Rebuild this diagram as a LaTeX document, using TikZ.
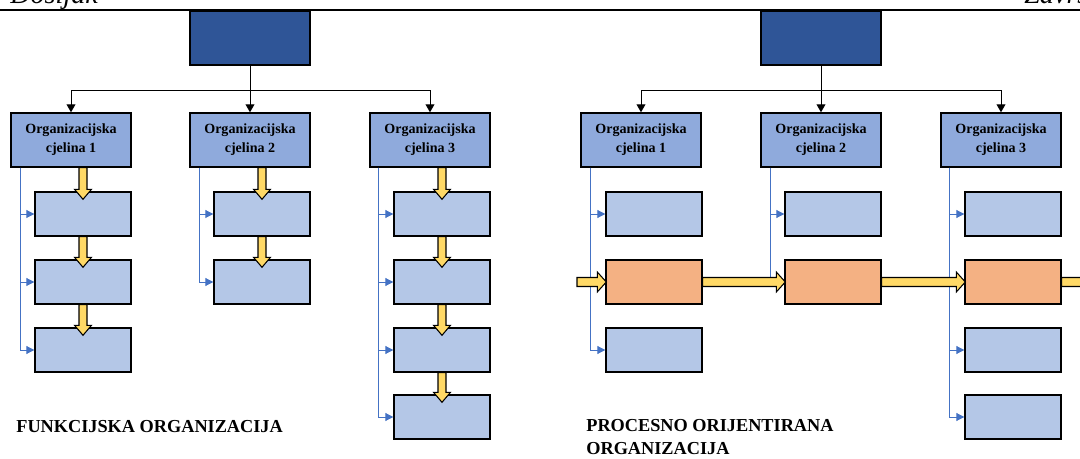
\documentclass[tikz,border=0pt]{standalone}
\usepackage{fontspec}
\setmainfont{Liberation Serif}
\usetikzlibrary{arrows.meta,calc}
\definecolor{topblue}{HTML}{2F5597}
\definecolor{unitblue}{HTML}{8FAADC}
\definecolor{taskblue}{HTML}{B4C7E7}
\definecolor{procorange}{HTML}{F4B183}
\definecolor{flowyellow}{HTML}{FFD966}
\definecolor{linkblue}{HTML}{4472C4}
% yellow block arrow, down from #1 into #2
\newcommand{\vflow}[2]{%
  \filldraw[flowarrow] ($(#1.south -| #2.north)+(-4,0)$) -- ($(#2.north)+(-4,-2)$)
    -- ($(#2.north)+(-8.5,-2)$) -- ($(#2.north)+(0,8)$) -- ($(#2.north)+(8.5,-2)$)
    -- ($(#2.north)+(4,-2)$) -- ($(#1.south -| #2.north)+(4,0)$) -- cycle;}
% yellow block arrow, right from #1 to #2
\newcommand{\hflow}[2]{%
  \filldraw[flowarrow] ($(#1)+(0,-4.5)$) -- ($(#2)+(-8,-4.5)$) -- ($(#2)+(-8,-10)$)
    -- ($(#2)+(1,0)$) -- ($(#2)+(-8,10)$) -- ($(#2)+(-8,4.5)$) -- ($(#1)+(0,4.5)$) -- cycle;}
\begin{document}
\begin{tikzpicture}[x=0.02cm,y=-0.02cm,
  every node/.style={inner sep=0pt},
  topbox/.style={draw=black,fill=topblue,line width=0.8pt,minimum width=2.4cm,minimum height=1.08cm},
  unitbox/.style={draw=black,fill=unitblue,line width=0.8pt,minimum width=2.4cm,minimum height=1.08cm,
    font=\bfseries\fontsize{8}{10.8}\selectfont,align=center},
  taskbox/.style={draw=black,fill=taskblue,line width=0.8pt,minimum width=1.92cm,minimum height=0.88cm},
  procbox/.style={taskbox,fill=procorange},
  conn/.style={draw=black,line width=0.5pt,-{Triangle[length=4.5pt,width=5pt]}},
  branch/.style={draw=linkblue,line width=0.5pt,-{Triangle[length=4.5pt,width=4.5pt]}},
  flowarrow/.style={draw=black,fill=flowyellow,line width=0.6pt,line join=miter},
  caption/.style={anchor=base west,font=\bfseries\fontsize{10.4}{13.2}\selectfont,align=left}]
\useasboundingbox (0,0) rectangle (1080,459);

% page header
\node[anchor=base west,font=\itshape\fontsize{16}{16}\selectfont] (hleft) at (10,4) {Došljak};
\node[anchor=base west,font=\itshape\fontsize{16}{16}\selectfont] (hright) at (1024,4) {Završni rad};
\draw[line width=1.2pt] (0,10) -- (1080,10);

% functional organisation
\node[topbox] (ltop) at (250,38) {};
\node[unitbox] (l1) at (71,140) {Organizacijska\\cjelina 1};
\node[unitbox] (l2) at (250,140) {Organizacijska\\cjelina 2};
\node[unitbox] (l3) at (430,140) {Organizacijska\\cjelina 3};
\node[taskbox] (l11) at (83,214) {};
\node[taskbox] (l12) at (83,282) {};
\node[taskbox] (l13) at (83,350) {};
\node[taskbox] (l21) at (262,214) {};
\node[taskbox] (l22) at (262,282) {};
\node[taskbox] (l31) at (442,214) {};
\node[taskbox] (l32) at (442,282) {};
\node[taskbox] (l33) at (442,350) {};
\node[taskbox] (l34) at (442,417) {};
\node[caption] (lcap) at (16,433) {FUNKCIJSKA ORGANIZACIJA};

\draw[conn] (ltop.south) -- ++(0,25) -| (l1.north);
\draw[conn] (ltop.south) -- (l2.north);
\draw[conn] (ltop.south) -- ++(0,25) -| (l3.north);
\foreach \s in {l11,l12,l13} \draw[branch] ($(l1.south west)+(10,0)$) |- (\s.west);
\foreach \s in {l21,l22} \draw[branch] ($(l2.south west)+(10,0)$) |- (\s.west);
\foreach \s in {l31,l32,l33,l34} \draw[branch] ($(l3.south west)+(9,0)$) |- (\s.west);
\vflow{l1}{l11} \vflow{l11}{l12} \vflow{l12}{l13}
\vflow{l2}{l21} \vflow{l21}{l22}
\vflow{l3}{l31} \vflow{l31}{l32} \vflow{l32}{l33} \vflow{l33}{l34}

% process oriented organisation
\node[topbox] (rtop) at (821,38) {};
\node[unitbox] (r1) at (641,140) {Organizacijska\\cjelina 1};
\node[unitbox] (r2) at (821,140) {Organizacijska\\cjelina 2};
\node[unitbox] (r3) at (1001,140) {Organizacijska\\cjelina 3};
\node[taskbox] (r11) at (654,214) {};
\node[procbox] (r12) at (654,282) {};
\node[taskbox] (r13) at (654,350) {};
\node[taskbox] (r21) at (833,214) {};
\node[procbox] (r22) at (833,282) {};
\node[taskbox] (r31) at (1013,214) {};
\node[procbox] (r32) at (1013,282) {};
\node[taskbox] (r33) at (1013,350) {};
\node[taskbox] (r34) at (1013,417) {};
\node[caption] (rcap) at (586,455) {PROCESNO ORIJENTIRANA\\ORGANIZACIJA};
\coordinate (pin) at (577,282);
\coordinate (pout) at (1100,282);

\draw[conn] (rtop.south) -- ++(0,25) -| (r1.north);
\draw[conn] (rtop.south) -- (r2.north);
\draw[conn] (rtop.south) -- ++(0,25) -| (r3.north);
\foreach \s in {r11,r12,r13} \draw[branch] ($(r1.south west)+(10,0)$) |- (\s.west);
\foreach \s in {r21,r22} \draw[branch] ($(r2.south west)+(10,0)$) |- (\s.west);
\foreach \s in {r31,r32,r33,r34} \draw[branch] ($(r3.south west)+(9,0)$) |- (\s.west);
\hflow{pin}{r12.west} \hflow{r12.east}{r22.west}
\hflow{r22.east}{r32.west} \hflow{r32.east}{pout}
\end{tikzpicture}
\end{document}
